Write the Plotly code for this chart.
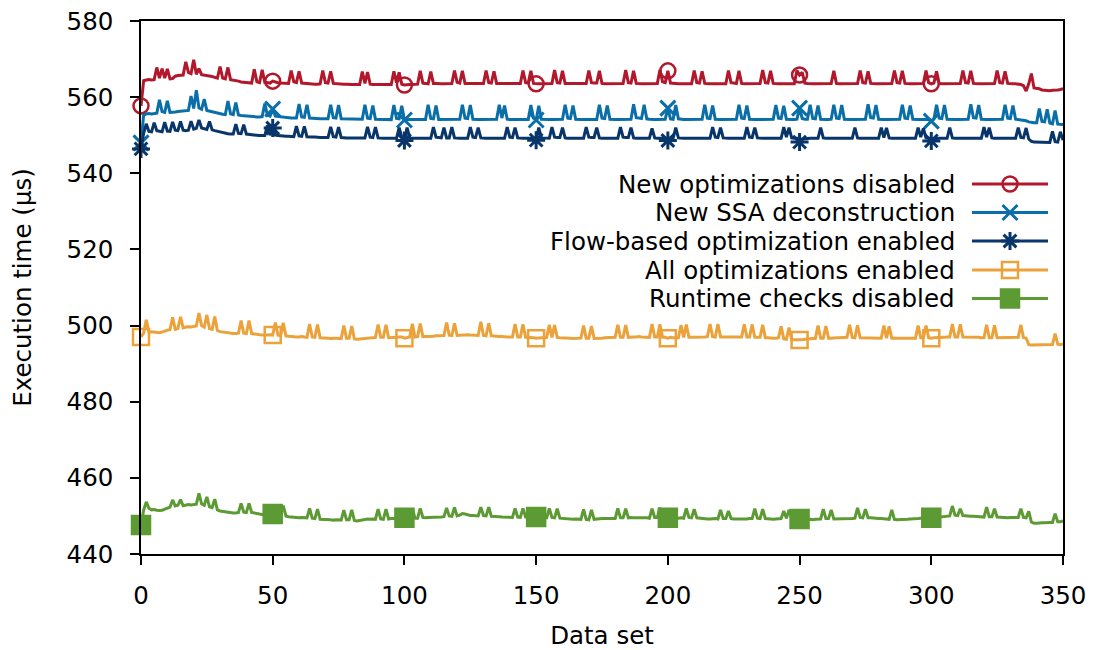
import plotly.graph_objects as go

# ---------------- data ----------------
series_names = [
    "New optimizations disabled",
    "New SSA deconstruction",
    "Flow-based optimization enabled",
    "All optimizations enabled",
    "Runtime checks disabled",
]

new_opt_disabled = [
    557.7, 564.3, 564.5, 564.6, 564.5, 564.6, 567.8, 565.0, 567.5, 565.0,
    567.4, 564.8, 564.9, 565.5, 565.7, 565.8, 565.8, 569.3, 566.5, 566.2,
    569.8, 566.0, 567.5, 565.9, 565.8, 565.6, 565.5, 565.4, 565.2, 565.0,
    568.0, 565.0, 564.8, 567.8, 564.6, 564.5, 564.3, 564.2, 564.0, 563.9,
    563.8, 563.8, 563.7, 567.3, 564.0, 563.8, 567.2, 563.9, 563.8, 563.7,
    564.2, 563.9, 563.8, 563.7, 563.7, 563.6, 563.6, 567.0, 564.0, 563.8,
    566.8, 563.7, 563.6, 563.6, 563.5, 563.5, 563.4, 563.4, 563.5, 567.0,
    563.8, 563.7, 566.8, 563.6, 563.5, 563.5, 563.4, 563.4, 563.4, 563.3,
    563.3, 563.3, 563.3, 563.3, 566.7, 563.6, 566.6, 563.4, 563.3, 563.3,
    563.3, 563.2, 563.2, 563.2, 563.3, 563.3, 566.8, 563.8, 566.5, 563.4,
    563.2, 563.3, 563.3, 563.3, 563.3, 563.4, 566.9, 563.7, 563.6, 563.5,
    566.7, 563.6, 563.6, 563.5, 563.5, 563.5, 563.5, 563.6, 563.6, 567.0,
    563.9, 563.7, 566.9, 563.6, 563.6, 563.5, 563.5, 563.5, 563.5, 563.5,
    563.6, 567.0, 563.8, 563.7, 566.8, 563.6, 563.6, 563.5, 563.5, 563.5,
    563.5, 563.5, 563.5, 563.5, 563.6, 567.0, 563.8, 563.7, 566.9, 563.6,
    563.5, 563.5, 563.5, 563.5, 563.5, 563.5, 563.6, 567.1, 563.8, 563.7,
    566.9, 563.6, 563.6, 563.5, 563.5, 563.5, 563.5, 563.5, 563.5, 563.6,
    567.0, 563.8, 563.7, 563.7, 566.9, 563.6, 563.5, 563.5, 563.5, 563.5,
    563.5, 563.5, 563.5, 563.6, 567.1, 563.8, 563.7, 566.9, 563.6, 563.5,
    563.5, 563.5, 563.5, 563.5, 563.5, 563.5, 563.6, 567.2, 564.0, 563.8,
    566.9, 563.7, 563.6, 563.5, 563.5, 563.5, 563.5, 563.5, 563.5, 563.5,
    567.0, 563.8, 563.7, 566.8, 563.6, 563.5, 563.5, 563.5, 563.5, 563.5,
    563.5, 563.5, 563.5, 567.0, 563.8, 563.7, 563.6, 566.9, 563.6, 563.5,
    563.5, 563.5, 563.5, 563.5, 563.5, 563.6, 567.1, 563.8, 563.7, 566.9,
    563.6, 563.5, 563.5, 563.5, 563.5, 563.5, 563.5, 563.5, 563.5, 567.0,
    565.8, 566.5, 563.7, 563.6, 563.5, 563.5, 563.5, 563.5, 563.5, 563.5,
    563.5, 563.5, 563.6, 566.9, 563.6, 563.5, 563.5, 563.5, 563.5, 563.5,
    563.5, 563.5, 563.6, 567.0, 563.8, 563.7, 566.8, 563.6, 563.5, 563.5,
    563.5, 563.5, 563.5, 563.5, 563.5, 563.6, 567.0, 563.8, 563.7, 566.9,
    563.6, 563.5, 563.5, 563.5, 563.5, 563.5, 563.5, 563.6, 567.0, 563.8,
    563.5, 563.7, 566.8, 563.6, 563.5, 563.5, 563.5, 563.5, 563.5, 563.5,
    563.5, 563.6, 567.0, 563.8, 563.7, 566.9, 563.6, 563.5, 563.5, 563.5,
    563.5, 563.5, 563.5, 563.5, 563.6, 567.0, 563.8, 563.7, 566.8, 563.6,
    563.5, 563.5, 563.5, 563.4, 563.3, 563.0, 561.6, 563.5, 566.2, 562.4,
    562.3, 562.2, 561.9, 561.8, 561.7, 561.7, 561.8, 561.8, 561.9, 562.0,
    562.2,
]

new_ssa = [
    548.0, 555.3, 555.6, 555.7, 555.6, 555.7, 555.8, 559.3, 556.2, 556.0,
    559.0, 556.0, 556.0, 556.1, 556.2, 556.3, 556.3, 556.4, 556.5, 560.3,
    557.0, 561.8, 557.2, 556.8, 559.5, 556.5, 556.3, 556.1, 556.0, 555.8,
    555.6, 555.5, 555.4, 559.0, 555.6, 555.4, 558.6, 555.3, 555.2, 555.1,
    555.0, 554.9, 554.9, 554.8, 554.8, 554.8, 554.9, 558.3, 555.2, 555.0,
    556.9, 555.0, 554.9, 554.8, 554.7, 554.6, 554.6, 554.5, 554.5, 554.5,
    558.2, 554.8, 554.7, 558.0, 554.5, 554.4, 554.4, 554.3, 554.3, 554.3,
    554.3, 554.3, 558.0, 554.6, 554.5, 557.9, 554.3, 554.3, 554.2, 554.2,
    554.2, 554.2, 554.2, 554.2, 554.2, 558.0, 554.5, 554.4, 557.8, 554.2,
    554.2, 554.1, 554.1, 554.1, 554.1, 554.1, 557.9, 554.4, 554.3, 557.7,
    554.0, 554.1, 554.1, 554.1, 554.1, 554.1, 554.1, 554.1, 554.1, 558.0,
    554.4, 554.3, 557.8, 554.1, 554.1, 554.1, 554.1, 554.1, 554.1, 554.1,
    554.1, 554.2, 558.0, 554.5, 554.4, 557.9, 554.2, 554.1, 554.1, 554.1,
    554.1, 554.1, 554.1, 554.1, 554.1, 554.2, 558.0, 554.5, 557.8, 554.2,
    554.1, 554.1, 554.1, 554.1, 554.1, 554.1, 554.1, 554.1, 557.9, 554.5,
    554.0, 557.7, 554.2, 554.1, 554.1, 554.1, 554.1, 554.1, 554.1, 554.1,
    554.2, 558.0, 554.5, 554.4, 557.8, 554.2, 554.1, 554.1, 554.1, 554.1,
    554.1, 554.1, 554.1, 554.1, 558.0, 554.5, 554.4, 557.8, 554.2, 554.1,
    554.1, 554.1, 554.1, 554.1, 554.1, 554.2, 554.2, 558.1, 554.6, 554.5,
    554.4, 558.0, 554.3, 554.2, 554.1, 554.1, 554.1, 554.1, 554.1, 554.2,
    557.1, 554.3, 554.2, 557.9, 554.3, 554.1, 554.1, 554.1, 554.1, 554.1,
    554.1, 554.1, 554.1, 554.2, 558.0, 554.5, 554.4, 557.8, 554.2, 554.1,
    554.1, 554.1, 554.1, 554.1, 554.1, 554.1, 554.2, 558.0, 554.5, 554.4,
    557.8, 554.2, 554.1, 554.1, 554.1, 554.1, 554.1, 554.1, 554.1, 554.2,
    554.2, 557.9, 554.5, 554.4, 557.7, 554.2, 554.1, 554.1, 554.1, 554.2,
    557.1, 554.4, 554.2, 554.2, 558.0, 554.4, 554.3, 557.8, 554.2, 554.1,
    554.1, 554.1, 554.2, 558.0, 554.5, 554.4, 557.9, 554.2, 554.1, 554.1,
    554.1, 554.1, 554.1, 554.1, 554.1, 554.2, 558.1, 554.6, 554.5, 557.9,
    554.2, 554.1, 554.1, 554.1, 554.1, 554.1, 554.1, 554.1, 554.2, 558.0,
    554.5, 554.4, 557.8, 554.2, 554.1, 554.1, 554.1, 554.1, 554.1, 554.1,
    553.7, 554.2, 558.0, 554.5, 554.4, 557.9, 554.2, 554.1, 554.1, 554.1,
    554.1, 554.1, 554.1, 554.1, 554.2, 558.1, 554.6, 554.5, 557.9, 554.2,
    554.1, 554.1, 554.1, 554.1, 554.1, 554.1, 554.1, 554.2, 558.0, 554.5,
    554.4, 557.8, 554.2, 554.1, 554.1, 554.0, 553.8, 553.5, 553.3, 553.3,
    553.3, 557.0, 553.6, 553.5, 556.8, 553.2, 553.0, 556.5, 552.9, 552.8,
    552.8,
]

flow_based = [
    546.4, 550.5, 553.0, 551.0, 550.9, 553.3, 551.2, 551.0, 550.9, 553.4,
    551.1, 551.0, 553.5, 551.3, 551.2, 553.6, 551.3, 551.2, 551.3, 553.7,
    551.6, 551.8, 554.0, 551.9, 551.7, 551.5, 553.6, 551.4, 551.2, 551.0,
    550.8, 550.6, 550.5, 550.4, 550.3, 550.3, 552.9, 550.5, 550.4, 552.8,
    550.3, 550.2, 550.1, 550.0, 550.0, 549.9, 549.9, 549.9, 552.6, 550.0,
    551.9, 550.0, 549.9, 549.8, 549.8, 549.7, 549.7, 549.6, 549.6, 552.4,
    549.8, 549.7, 552.3, 549.6, 549.5, 549.5, 549.5, 549.4, 549.4, 549.4,
    549.4, 549.4, 552.2, 549.6, 549.5, 552.1, 549.4, 549.3, 549.3, 549.3,
    549.3, 549.3, 549.3, 549.3, 549.3, 549.3, 552.2, 549.5, 549.4, 552.1,
    549.3, 549.2, 549.2, 549.2, 549.2, 549.2, 549.2, 549.2, 552.0, 549.5,
    548.6, 552.0, 549.3, 549.2, 549.2, 549.2, 549.2, 549.2, 549.2, 549.2,
    549.2, 552.1, 549.5, 549.4, 549.3, 552.0, 549.3, 549.3, 552.1, 549.3,
    549.2, 549.2, 549.2, 549.2, 549.2, 552.1, 549.5, 549.4, 552.0, 549.3,
    549.2, 549.2, 549.2, 549.2, 549.2, 549.2, 549.2, 549.2, 549.2, 552.1,
    549.5, 549.4, 552.0, 549.3, 549.2, 549.2, 549.2, 549.2, 549.2, 549.2,
    548.7, 552.0, 549.3, 549.2, 549.2, 549.2, 552.1, 549.5, 549.4, 549.4,
    552.0, 549.3, 549.2, 549.2, 549.2, 549.2, 549.2, 549.2, 549.2, 552.1,
    549.5, 549.4, 549.4, 552.0, 549.3, 549.2, 549.2, 549.2, 549.2, 549.2,
    549.2, 549.2, 552.1, 549.5, 549.4, 549.4, 552.0, 549.3, 549.2, 549.2,
    549.2, 549.2, 549.2, 549.2, 551.8, 549.3, 549.2, 549.2, 549.2, 549.2,
    548.6, 549.1, 549.2, 552.0, 549.3, 549.2, 549.2, 549.2, 549.2, 549.2,
    549.2, 549.2, 549.2, 549.2, 549.2, 549.2, 549.2, 552.1, 549.5, 549.4,
    552.0, 549.3, 549.2, 549.2, 549.2, 549.2, 549.2, 549.2, 549.2, 549.2,
    552.1, 549.5, 549.4, 552.0, 549.3, 549.2, 549.2, 549.2, 549.2, 549.2,
    549.2, 549.2, 549.2, 549.2, 552.1, 549.5, 552.0, 549.3, 549.2, 549.2,
    548.2, 549.0, 549.1, 549.2, 549.2, 549.2, 549.2, 549.2, 552.0, 549.3,
    549.2, 549.2, 549.2, 549.2, 549.2, 549.2, 549.2, 549.2, 549.2, 549.2,
    549.2, 552.0, 549.3, 549.2, 549.2, 549.2, 549.2, 549.2, 549.2, 549.2,
    549.2, 552.0, 549.4, 551.9, 549.3, 549.2, 549.2, 549.2, 549.2, 549.2,
    549.2, 549.2, 549.2, 549.2, 549.2, 552.0, 549.5, 551.8, 549.3, 549.2,
    548.5, 549.1, 549.2, 549.2, 549.2, 549.2, 549.2, 552.0, 549.3, 549.2,
    549.2, 549.2, 549.2, 549.2, 549.2, 549.2, 549.2, 549.2, 549.2, 549.2,
    552.1, 549.5, 552.0, 549.3, 549.2, 549.2, 549.2, 549.2, 549.2, 549.2,
    549.2, 549.2, 549.2, 552.0, 549.4, 549.3, 551.9, 549.0, 548.4, 548.2,
    548.2, 548.1, 548.1, 548.1, 548.1, 548.1, 551.0, 548.3, 548.2, 550.9,
    548.7,
]

all_opt = [
    497.0, 498.0, 501.5, 498.3, 498.4, 498.3, 498.2, 498.1, 498.3, 498.6,
    498.8, 498.9, 502.2, 499.0, 499.2, 502.3, 499.4, 499.6, 499.7, 499.6,
    499.8, 499.9, 503.3, 500.0, 499.6, 502.8, 499.2, 499.0, 502.4, 498.7,
    498.4, 498.3, 498.1, 498.0, 498.0, 497.9, 497.9, 498.0, 501.3, 498.0,
    497.9, 501.3, 497.9, 497.7, 497.7, 497.6, 497.5, 497.5, 497.5, 497.6,
    497.5, 500.8, 497.5, 497.4, 500.7, 497.3, 497.2, 497.1, 497.1, 497.0,
    497.0, 497.1, 497.0, 496.9, 500.4, 497.0, 496.9, 500.3, 496.8, 496.8,
    496.7, 496.7, 496.6, 496.7, 496.7, 496.6, 496.6, 500.0, 496.7, 496.7,
    499.9, 496.5, 496.4, 496.5, 496.6, 496.7, 496.7, 496.8, 496.8, 496.9,
    500.3, 496.9, 496.9, 500.2, 496.8, 496.8, 496.9, 496.9, 497.0, 497.0,
    496.7, 496.9, 497.0, 500.5, 497.0, 497.1, 500.5, 497.1, 497.1, 497.2,
    497.2, 497.2, 497.3, 497.3, 497.3, 497.4, 500.8, 497.5, 497.4, 500.6,
    497.4, 497.5, 497.5, 497.6, 497.6, 497.5, 497.5, 497.5, 497.4, 501.0,
    497.4, 497.3, 500.6, 497.3, 497.2, 497.2, 497.1, 497.1, 497.0, 497.0,
    497.0, 497.0, 500.4, 497.0, 497.0, 500.3, 496.9, 496.9, 496.9, 496.8,
    496.7, 496.8, 496.8, 496.8, 496.9, 500.2, 496.9, 500.1, 496.9, 496.8,
    496.8, 496.7, 496.7, 496.7, 496.6, 496.6, 496.6, 496.7, 500.0, 496.7,
    496.7, 499.9, 496.6, 496.6, 496.7, 496.7, 496.8, 496.8, 496.8, 496.9,
    496.9, 500.2, 496.9, 496.9, 500.1, 496.9, 497.0, 497.0, 497.0, 497.1,
    497.0, 497.0, 496.9, 496.9, 500.4, 497.0, 497.0, 500.3, 496.9, 496.9,
    496.7, 496.9, 496.8, 496.8, 496.8, 500.1, 496.9, 500.3, 496.9, 496.9,
    496.9, 497.0, 497.0, 497.0, 497.0, 497.1, 500.4, 497.1, 497.0, 500.4,
    497.0, 497.0, 497.0, 496.9, 496.9, 496.9, 496.9, 497.0, 497.0, 500.3,
    497.0, 497.0, 500.3, 496.9, 496.9, 496.9, 500.2, 496.8, 496.8, 496.7,
    496.7, 496.7, 496.8, 499.8, 496.5, 496.4, 499.5, 496.3, 496.3, 496.2,
    496.2, 496.3, 496.4, 496.5, 496.5, 496.6, 496.6, 500.0, 496.7, 496.7,
    499.9, 496.7, 496.7, 496.8, 496.8, 496.8, 496.8, 496.9, 496.9, 500.2,
    496.9, 496.8, 500.1, 496.8, 496.8, 496.8, 496.7, 496.7, 496.7, 496.7,
    496.7, 496.7, 500.0, 496.7, 499.8, 496.7, 496.7, 496.7, 496.6, 496.6,
    496.6, 496.7, 496.7, 496.7, 496.7, 500.0, 496.8, 496.8, 500.0, 496.8,
    496.7, 496.8, 496.8, 496.9, 496.9, 496.9, 497.0, 497.0, 500.4, 497.0,
    497.0, 500.3, 497.0, 497.0, 497.0, 496.9, 496.9, 496.9, 496.9, 496.8,
    496.8, 500.2, 496.8, 496.8, 500.1, 496.8, 496.8, 496.8, 496.8, 496.9,
    496.9, 496.9, 496.9, 496.9, 500.2, 496.8, 496.7, 495.0, 494.9, 494.9,
    495.0, 494.9, 494.9, 495.0, 495.0, 495.0, 495.0, 497.9, 495.1, 495.0,
    495.2,
]

runtime_checks_disabled = [
    447.6, 451.5, 453.7, 452.0, 451.6, 451.7, 451.5, 451.4, 451.5, 451.8,
    452.0, 452.3, 454.2, 452.6, 452.8, 454.3, 452.7, 452.9, 453.0, 452.9,
    453.0, 453.1, 455.9, 453.2, 452.8, 455.0, 452.4, 452.2, 454.4, 451.6,
    451.3, 451.2, 451.0, 450.9, 450.9, 450.8, 450.8, 450.9, 453.3, 451.0,
    450.9, 453.3, 450.9, 450.7, 450.6, 450.5, 450.4, 450.3, 450.5, 450.6,
    450.5, 453.0, 450.4, 450.3, 452.7, 450.0, 449.8, 449.7, 449.6, 449.6,
    449.5, 449.6, 449.5, 449.5, 452.0, 449.4, 449.3, 451.8, 449.1, 449.1,
    449.0, 449.0, 449.0, 448.9, 449.0, 449.0, 448.9, 451.5, 449.0, 449.0,
    451.6, 448.8, 448.7, 448.8, 449.0, 449.1, 449.2, 449.1, 449.2, 449.1,
    451.8, 449.2, 449.1, 451.8, 449.2, 449.3, 449.3, 449.4, 449.4, 449.3,
    449.5, 449.4, 449.3, 452.0, 449.4, 449.4, 452.0, 449.6, 449.5, 449.6,
    449.6, 449.7, 449.6, 449.7, 449.7, 449.8, 452.1, 450.0, 449.9, 452.2,
    450.0, 450.2, 450.6, 450.5, 450.2, 450.1, 450.1, 450.0, 450.0, 452.3,
    450.1, 450.0, 452.3, 449.9, 449.9, 449.8, 449.8, 449.7, 449.7, 449.6,
    449.7, 449.6, 452.0, 449.7, 449.6, 452.0, 449.7, 449.7, 449.6, 449.7,
    449.7, 449.6, 449.6, 449.5, 449.5, 452.0, 449.6, 449.5, 451.9, 449.4,
    449.3, 449.2, 449.2, 449.1, 449.1, 449.2, 449.2, 449.1, 451.7, 449.1,
    449.0, 451.6, 449.1, 449.2, 449.2, 449.3, 449.3, 449.3, 449.4, 449.4,
    449.3, 452.0, 449.5, 449.5, 451.9, 449.5, 449.6, 449.5, 449.5, 449.6,
    449.6, 449.5, 449.5, 449.4, 451.9, 449.6, 449.6, 452.2, 449.7, 449.6,
    449.5, 449.6, 449.5, 449.4, 449.4, 449.5, 449.4, 452.0, 449.6, 449.5,
    451.8, 449.5, 449.4, 449.3, 449.3, 449.2, 449.2, 449.3, 449.3, 449.2,
    451.6, 449.3, 449.3, 451.3, 449.3, 449.2, 449.2, 449.1, 449.1, 449.2,
    449.2, 449.3, 449.3, 451.9, 449.4, 449.3, 451.8, 449.3, 449.2, 449.2,
    449.1, 449.2, 449.2, 449.3, 451.3, 449.4, 451.6, 449.3, 449.2, 451.5,
    449.2, 449.1, 449.1, 449.0, 449.1, 449.0, 449.1, 449.1, 449.2, 451.8,
    449.3, 449.3, 451.6, 449.2, 449.2, 449.3, 449.3, 449.2, 449.2, 449.3,
    449.3, 449.4, 452.1, 449.6, 449.5, 451.8, 449.5, 449.5, 449.4, 449.4,
    449.3, 449.3, 449.2, 449.2, 449.1, 451.6, 449.1, 449.0, 449.0, 449.1,
    449.1, 449.1, 449.2, 449.2, 449.3, 449.3, 449.4, 449.4, 451.6, 449.5,
    449.5, 451.8, 449.6, 449.7, 449.8, 449.9, 449.9, 450.0, 452.6, 450.2,
    450.1, 451.9, 450.1, 450.0, 450.0, 449.9, 449.9, 449.8, 449.8, 449.7,
    449.7, 452.3, 449.8, 449.8, 451.9, 449.7, 449.6, 449.6, 449.5, 449.5,
    449.6, 449.6, 449.6, 449.6, 451.9, 449.6, 449.5, 451.2, 448.4, 448.1,
    448.1, 448.2, 448.2, 448.2, 448.3, 448.3, 448.3, 450.6, 448.5, 448.5,
    448.7,
]

x_ticks = [0, 50, 100, 150, 200, 250, 300, 350]
y_ticks = [440, 460, 480, 500, 520, 540, 560, 580]
marker_step = 50

# ---------------- styles ----------------
FONT = "DejaVu Sans"
FS = 24.5
colors = ["#B2182B", "#0A6FA8", "#08356A", "#ECA23A", "#5C9A33"]
symbols = ["circle-open", "x-thin-open", "asterisk-open", "square-open", "square"]
msizes = [15, 15, 15, 16, 18]
mwidths = [2.5, 3, 3, 2.5, 2.5]
LW = 3
all_series = [new_opt_disabled, new_ssa, flow_based, all_opt, runtime_checks_disabled]

fig = go.Figure()

for name, ys, c, sym, ms, mw in zip(series_names, all_series, colors, symbols, msizes, mwidths):
    xs = list(range(len(ys)))
    fig.add_trace(go.Scatter(
        x=xs, y=ys, mode="lines", name=name, showlegend=False,
        line=dict(color=c, width=LW), cliponaxis=False, hoverinfo="skip"))
    mx = xs[0:301:marker_step]
    my = ys[0:301:marker_step]
    fig.add_trace(go.Scatter(
        x=mx, y=my, mode="markers", showlegend=False, cliponaxis=False,
        marker=dict(symbol=sym, size=ms, color=c, line=dict(color=c, width=mw)),
        hoverinfo="skip"))

# ---------------- custom legend (gnuplot style: text left, sample right) ----------------
# overlay axes measured in plot-area pixels
leg_rows_px = [184, 212.5, 241, 270, 298.5]
leg_text_right = 957
leg_line = (972, 1048)
leg_marker_x = 1010

for name, c, sym, ms, mw, yy in zip(series_names, colors, symbols, msizes, mwidths, leg_rows_px):
    fig.add_trace(go.Scatter(
        x=[leg_line[0], leg_line[1]], y=[yy, yy], mode="lines",
        xaxis="x2", yaxis="y2", showlegend=False, cliponaxis=False,
        line=dict(color=c, width=LW), hoverinfo="skip"))
    fig.add_trace(go.Scatter(
        x=[leg_marker_x], y=[yy], mode="markers",
        xaxis="x2", yaxis="y2", showlegend=False, cliponaxis=False,
        marker=dict(symbol=sym, size=ms, color=c, line=dict(color=c, width=mw)),
        hoverinfo="skip"))
    fig.add_annotation(
        x=leg_text_right, y=yy, xref="x2", yref="y2", text=name,
        showarrow=False, xanchor="right", yanchor="middle",
        font=dict(family=FONT, size=FS, color="black"))

axis_common = dict(
    showline=True, linecolor="black", linewidth=1.5, mirror=True,
    ticks="outside", tickcolor="black", tickwidth=1.5, ticklen=9,
    showgrid=False, zeroline=False, automargin=False,
    tickfont=dict(family=FONT, size=FS, color="black"),
)

fig.update_layout(
    width=1093, height=650,
    margin=dict(l=141, r=30, t=21, b=96),
    paper_bgcolor="white", plot_bgcolor="white",
    font=dict(family=FONT, size=FS, color="black"),
    xaxis=dict(range=[0, 350], tickvals=x_ticks, ticklabelstandoff=10,
               title=dict(text="Data set", standoff=20,
                          font=dict(family=FONT, size=FS)),
               **axis_common),
    yaxis=dict(range=[440, 580], tickvals=y_ticks, ticklabelstandoff=12,
               title=dict(text="Execution time (µs)", standoff=28,
                          font=dict(family=FONT, size=FS)),
               **axis_common),
    xaxis2=dict(overlaying="x", range=[141, 1063], visible=False),
    yaxis2=dict(overlaying="y", range=[554, 21], visible=False),
    showlegend=False,
)

fig.write_html("out.html")
